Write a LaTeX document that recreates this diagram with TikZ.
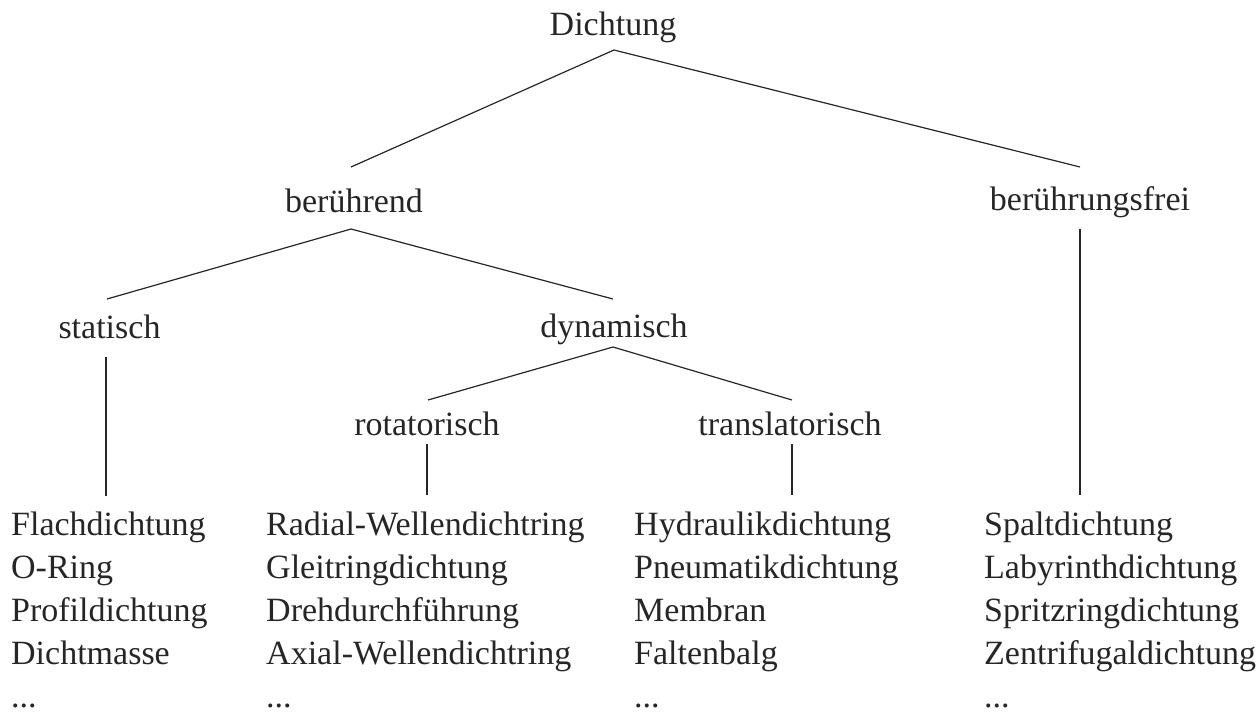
\documentclass[tikz,border=0pt]{standalone}
\usepackage{fontspec}
\setmainfont{Liberation Serif}
\begin{document}
\begin{tikzpicture}[x=1pt,y=-1pt,
  lbl/.style={inner sep=0pt,anchor=base,font=\fontsize{34}{43}\selectfont,text=black!85},
  leaf/.style={inner sep=0pt,anchor=base west,font=\fontsize{34}{43}\selectfont,text=black!85},
  edge/.style={line width=1.2pt,black!85}]
\useasboundingbox (0,0) rectangle (1257,713);
% inner nodes
\node[lbl] (D) at (613,35) {Dichtung};
\node[lbl] (B) at (354,212) {berührend};
\node[lbl] (F) at (1090,210) {berührungsfrei};
\node[lbl] (S) at (109.5,338) {statisch};
\node[lbl] (Y) at (614,337) {dynamisch};
\node[lbl] (R) at (427,435) {rotatorisch};
\node[lbl] (T) at (790,435) {translatorisch};
% connector ends
\coordinate (Db) at (614,50);
\coordinate (Bt) at (351,167);
\coordinate (Bb) at (351,229);
\coordinate (Ft) at (1080,167);
\coordinate (Fb) at (1080,229);
\coordinate (St) at (107,299);
\coordinate (Sb) at (106,357);
\coordinate (Yt) at (613,299);
\coordinate (Yb) at (613,347);
\coordinate (Rt) at (428,400);
\coordinate (Rb) at (427,444);
\coordinate (Tt) at (792,400);
\coordinate (Tb) at (792,444);
\coordinate (L1t) at (106,496);
\coordinate (L2t) at (427,495);
\coordinate (L3t) at (792,495);
\coordinate (L4t) at (1080,495);
\draw[edge] (Bt) -- (Db) -- (Ft);
\draw[edge] (St) -- (Bb) -- (Yt);
\draw[edge] (Rt) -- (Yb) -- (Tt);
\draw[edge] (Sb) -- (L1t);
\draw[edge] (Rb) -- (L2t);
\draw[edge] (Tb) -- (L3t);
\draw[edge] (Fb) -- (L4t);
% leaves
\foreach \t [count=\i] in {Flachdichtung,O-Ring,Profildichtung,Dichtmasse}
  \node[leaf] (a\i) at (11,492+43*\i) {\t};
\foreach \t [count=\i] in {Radial-Wellendichtring,Gleitringdichtung,Drehdurchführung,Axial-Wellendichtring}
  \node[leaf] (b\i) at (266,492+43*\i) {\t};
\foreach \t [count=\i] in {Hydraulikdichtung,Pneumatikdichtung,Membran,Faltenbalg}
  \node[leaf] (c\i) at (634,492+43*\i) {\t};
\foreach \t [count=\i] in {Spaltdichtung,Labyrinthdichtung,Spritzringdichtung,Zentrifugaldichtung}
  \node[leaf] (d\i) at (984,492+43*\i) {\t};
\node[leaf] (a5) at (11,707) {...};
\node[leaf] (b5) at (266,707) {...};
\node[leaf] (c5) at (634,707) {...};
\node[leaf] (d5) at (984,707) {...};
\end{tikzpicture}
\end{document}
